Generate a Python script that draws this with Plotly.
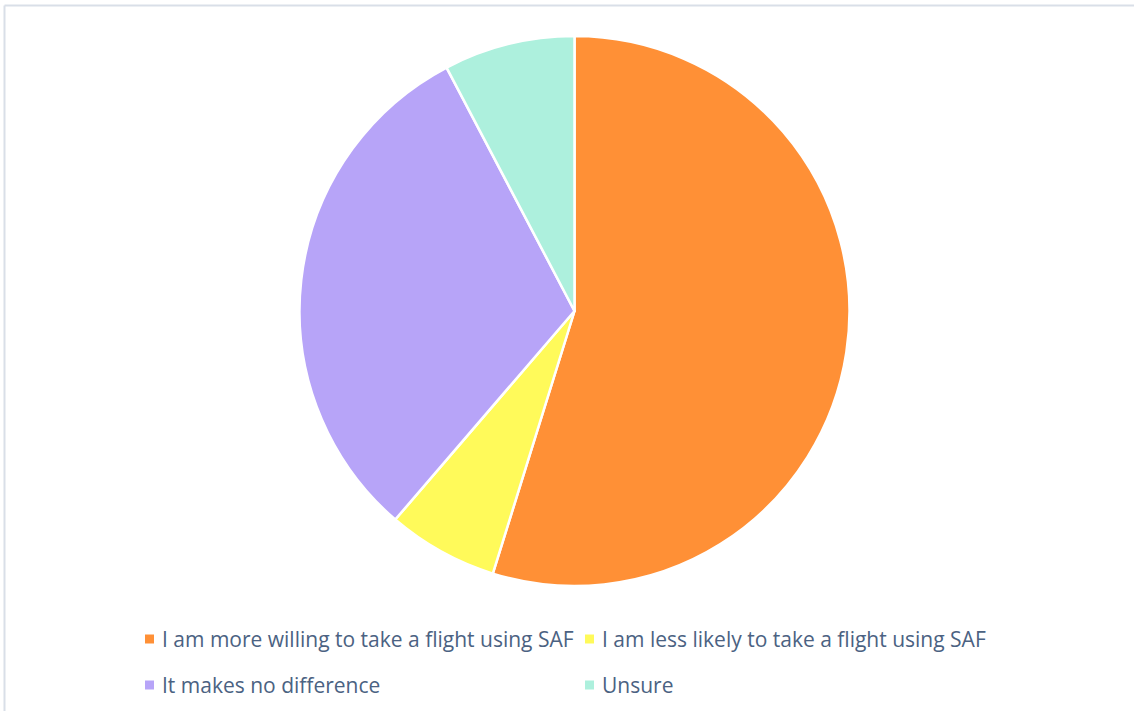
import plotly.graph_objects as go

# Survey responses: attitude towards flights using sustainable aviation fuel (SAF)
labels = [
    "I am more willing to take a flight using SAF",
    "I am less likely to take a flight using SAF",
    "It makes no difference",
    "Unsure",
]
shares = [54.8, 6.5, 31.0, 7.7]
colors = ["#FF9036", "#FFFA5A", "#B7A4F8", "#ADF0DD"]

W, H = 1134, 711
TEXT_COLOR = "#4B6282"
FONT = "Open Sans"


def px(x):
    return x / W


def py(y):
    return 1 - y / H


# pie centre and radius in pixels
cx, cy, r = 574.5, 311, 275

fig = go.Figure(
    go.Pie(
        labels=labels,
        values=shares,
        marker=dict(colors=colors, line=dict(color="white", width=2.5)),
        sort=False,
        direction="clockwise",
        rotation=0,
        textinfo="none",
        hoverinfo="label+percent",
        showlegend=False,
        domain=dict(x=[px(cx - r), px(cx + r)], y=[py(cy + r), py(cy - r)]),
    )
)

# legend laid out in two rows, two columns
legend_pos = [(145, 639), (585, 639), (145, 685), (585, 685)]
shapes = []
annotations = []
for (lx, ly), lab, col in zip(legend_pos, labels, colors):
    shapes.append(
        dict(
            type="rect", xref="paper", yref="paper",
            x0=px(lx), x1=px(lx + 9), y0=py(ly + 4.5), y1=py(ly - 4.5),
            fillcolor=col, line=dict(width=0),
        )
    )
    annotations.append(
        dict(
            text=lab, xref="paper", yref="paper",
            x=px(lx + 15), y=py(ly), xanchor="left", yanchor="middle",
            showarrow=False, font=dict(family=FONT, size=21, color=TEXT_COLOR),
        )
    )

# chart frame (top and left edges visible)
frame = "#D9DFE8"
shapes.append(dict(type="line", xref="paper", yref="paper",
                   x0=px(4.5), x1=px(W + 5), y0=py(5.5), y1=py(5.5),
                   line=dict(color=frame, width=2)))
shapes.append(dict(type="line", xref="paper", yref="paper",
                   x0=px(4.5), x1=px(4.5), y0=py(5.5), y1=py(H + 5),
                   line=dict(color=frame, width=2)))

fig.update_layout(
    width=W, height=H,
    margin=dict(l=0, r=0, t=0, b=0),
    paper_bgcolor="white",
    plot_bgcolor="white",
    shapes=shapes,
    annotations=annotations,
)

fig.write_html("out.html")
